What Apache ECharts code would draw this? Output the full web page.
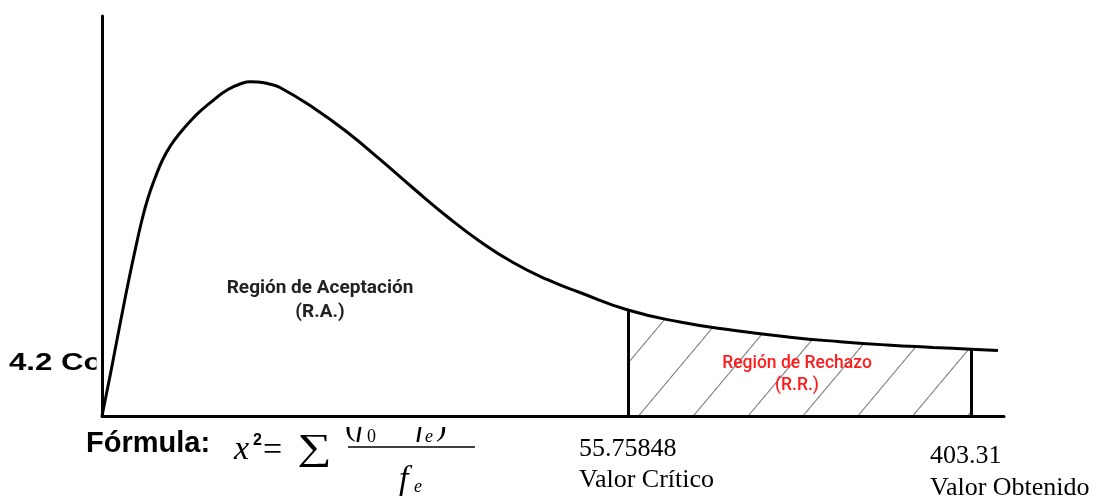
<!DOCTYPE html>
<html>
<head>
<meta charset="utf-8">
<script src="https://cdn.jsdelivr.net/npm/echarts@6/dist/echarts.min.js"></script>
<style>
  html, body { margin: 0; background: #fff; }
  #chart { width: 1099px; height: 497px; }
</style>
</head>
<body>
<div id="chart"></div>
<script>
// curva chi-cuadrado (eje relativo 0-100)
const curveX = [0, 0.89, 1.55, 2.22, 2.99, 3.77, 4.43, 5.1, 5.88, 6.76, 7.65, 8.65, 9.76, 10.86,
  12.31, 13.97, 15.63, 16.41, 17.29, 18.63, 19.73, 23.39, 27.16, 30.82, 34.48, 38.25, 41.91,
  45.57, 49.33, 52.99, 58.31, 64.08, 69.96, 76.27, 81.82, 87.03, 92.13, 96.34, 99.33]
const curveY = [0, 10, 17.75, 25.5, 34.25, 42.5, 49, 54.5, 59.5, 64.25, 67.75, 70.75, 73.63, 76.13,
  78.88, 81.63, 83.25, 83.55, 83.5, 82.93, 82.13, 77.13, 71, 64.13, 57, 49.88, 43.63,
  38.38, 34.13, 30.88, 26.5, 23.5, 21.43, 19.7, 18.58, 17.75, 17.15, 16.7, 16.4]

// puntos de corte: valor critico y valor obtenido
const critIndex = 30
const obtIndex = 37
const critValue = '55.75848'
const obtValue = '403.31'
const critName = 'Valor Crítico'
const obtName = 'Valor Obtenido'
const acceptLabel = 'Región de Aceptación\n(R.A.)'
const rejectLabel = 'Región de Rechazo\n(R.R.)'

const curve = curveX.map((x, i) => [x, curveY[i]])
const rejectArea = curve.slice(critIndex, obtIndex + 1)

const hatch = {
  symbol: 'rect',
  symbolSize: 1,
  color: 'rgba(70,70,70,0.75)',
  dashArrayX: [1, 0],
  dashArrayY: [1, 41],
  rotation: -50 * Math.PI / 180
}

const chart = echarts.init(document.getElementById('chart'))

const serif = '"Liberation Serif", "DejaVu Serif", serif'
const sans = '"Liberation Sans", Arial, sans-serif'

// texto simple para la formula
const txt = (text, x, y, size, extra) => ({
  type: 'text', x, y, z: 5,
  style: Object.assign({ text, fontFamily: serif, fontSize: size, fill: '#000', verticalAlign: 'middle' }, extra || {})
})
const ital = { fontStyle: 'italic' }

const option = {
  animation: false,
  backgroundColor: '#fff',
  grid: { left: 102, top: 16, width: 902, height: 400 },
  xAxis: {
    type: 'value', min: 0, max: 100, z: 10,
    axisLine: { lineStyle: { color: '#000', width: 3 } },
    axisTick: { show: false }, axisLabel: { show: false }, splitLine: { show: false }
  },
  yAxis: {
    type: 'value', min: 0, max: 100, z: 10,
    axisLine: { show: true, lineStyle: { color: '#000', width: 3 } },
    axisTick: { show: false }, axisLabel: { show: false }, splitLine: { show: false }
  },
  series: [
    {
      type: 'line',
      data: rejectArea,
      smooth: 0.5,
      symbol: 'none',
      z: 1,
      lineStyle: { width: 0, decal: hatch },
      itemStyle: { decal: hatch },
      areaStyle: { color: '#fff', opacity: 1, decal: hatch }
    },
    {
      type: 'line',
      data: curve,
      smooth: 0.5,
      symbol: 'none',
      z: 3,
      lineStyle: { color: '#000', width: 3 },
      markLine: {
        silent: true,
        symbol: 'none',
        label: { show: false },
        lineStyle: { color: '#000', width: 3, type: 'solid' },
        data: [critIndex, obtIndex].map(i => [
          { coord: [curve[i][0], 0] },
          { coord: curve[i] }
        ])
      }
    }
  ],
  graphic: [
    { type: 'text', x: 320, y: 300, z: 5,
      style: { text: acceptLabel, fontFamily: 'Roboto', fontWeight: 'bold', fontSize: 19,
        fill: '#222', align: 'center', verticalAlign: 'middle', lineHeight: 24 } },
    { type: 'text', x: 797, y: 375, z: 5,
      style: { text: rejectLabel, fontFamily: 'Roboto', fontWeight: 500, fontSize: 17.5,
        fill: '#ff1c1c', align: 'center', verticalAlign: 'middle', lineHeight: 22 } },

    // texto del documento tapado por la imagen
    { type: 'text', x: 9, y: 363, scaleX: 1.3, z: 0,
      style: { text: '4.2 Co', fontFamily: sans, fontWeight: 'bold', fontSize: 24,
        fill: '#000', verticalAlign: 'middle' } },
    { type: 'rect', z: 1, shape: { x: 96.5, y: 340, width: 5, height: 45 }, style: { fill: '#fff' } },

    // formula
    txt('Fórmula:', 86, 444, 29, { fontFamily: sans, fontWeight: 'bold' }),
    txt('x', 234, 450, 34, ital),
    txt('2', 253, 441, 16, { fontFamily: sans, fontWeight: 'bold' }),
    txt('=', 263, 451, 34),
    Object.assign(txt('∑', 297, 449, 37), { scaleX: 1.3 }),
    // numerador (la parte alta queda tapada)
    Object.assign(txt('(', 345, 427, 32), { z: 2 }),
    Object.assign(txt('f', 356, 427, 32, ital), { z: 2 }),
    Object.assign(txt('0', 367, 437, 18), { z: 2 }),
    Object.assign(txt('−', 388, 427, 32), { z: 2 }),
    Object.assign(txt('f', 416, 427, 32, ital), { z: 2 }),
    Object.assign(txt('e', 425, 437, 18, ital), { z: 2 }),
    Object.assign(txt(')', 436, 427, 32), { z: 2 }),
    Object.assign(txt('2', 447, 415, 18), { z: 2 }),
    { type: 'rect', z: 3, shape: { x: 340, y: 400, width: 145, height: 27 }, style: { fill: '#fff' } },
    { type: 'line', z: 5, shape: { x1: 348, y1: 447, x2: 475, y2: 447 }, style: { stroke: '#000', lineWidth: 1.5 } },
    txt('f', 399, 480, 34, ital),
    txt('e', 414, 487, 18, ital),

    // valores
    txt(critValue, 579, 449, 26),
    txt(critName, 579, 480, 26),
    txt(obtValue, 930, 456, 26),
    txt(obtName, 930, 488, 26)
  ]
}

chart.setOption(option)
</script>
</body>
</html>
